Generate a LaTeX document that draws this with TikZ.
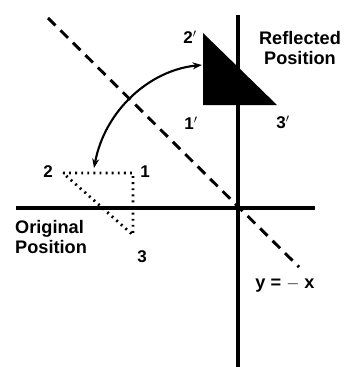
\documentclass[tikz,border=0pt]{standalone}
\usepackage{fontspec}
\setmainfont{Liberation Sans}
\usetikzlibrary{arrows.meta}

\tikzset{
  axis/.style={line width=2.8pt},
  mirror/.style={line width=2.5pt, dash pattern=on 9pt off 6pt},
  orig/.style={line width=2.4pt, dash pattern=on 1.6pt off 3.6pt},
  lbl/.style={font=\fontsize{15.5}{18}\selectfont\bfseries, inner sep=0pt},
  num/.style={font=\fontsize{14.5}{17}\selectfont\bfseries, inner sep=0pt},
}

\begin{document}
\begin{tikzpicture}[x=0.03cm, y=-0.03cm]
\useasboundingbox (0,0) rectangle (346,367);

% =========================
% axes
% =========================
\coordinate (O) at (238,208);
\coordinate (xl) at (16,208);
\coordinate (xr) at (315,208);
\coordinate (yt) at (238,15);
\coordinate (yb) at (238,367);
\draw[axis] (xl) -- (xr);
\draw[axis] (yt) -- (yb);

% line y = -x
\coordinate (m1) at (48,18);
\coordinate (m2) at (299,267);
\draw[mirror] (m1) -- (m2);
\node[lbl] (mlab) at (285,285) {y = $-$ x};

% =========================
% original position
% =========================
\coordinate (p1) at (133,173);
\coordinate (p2) at (63,173);
\coordinate (p3) at (133,235);
\draw[orig] (p2) -- (p1) -- (p3) -- (p2);

\node[num] (l1) at (145,172) {1};
\node[num] (l2) at (48,172) {2};
\node[num] (l3) at (142,257) {3};
\node[lbl, align=left, anchor=north west] (olab) at (15,220)
  {Original\\[-1pt]Position};

% =========================
% reflected position
% =========================
\coordinate (q1) at (203,105);
\coordinate (q2) at (203,33);
\coordinate (q3) at (277,105);
\fill (q2) -- (q1) -- (q3) -- cycle;

\node[num] (k1) at (191,123) {1$'$};
\node[num] (k2) at (190,37) {2$'$};
\node[num] (k3) at (283,122) {3$'$};
\node[lbl, align=center] (rlab) at (300,48)
  {Reflected\\[-1pt]Position};

% arc between the two
\coordinate (a1) at (94,168);
\coordinate (a2) at (202,65);
\draw[line width=1.8pt, {Stealth[length=8pt]}-{Stealth[length=8pt]}]
  (a1) .. controls (105,110) and (150,70) .. (a2);

\end{tikzpicture}
\end{document}
